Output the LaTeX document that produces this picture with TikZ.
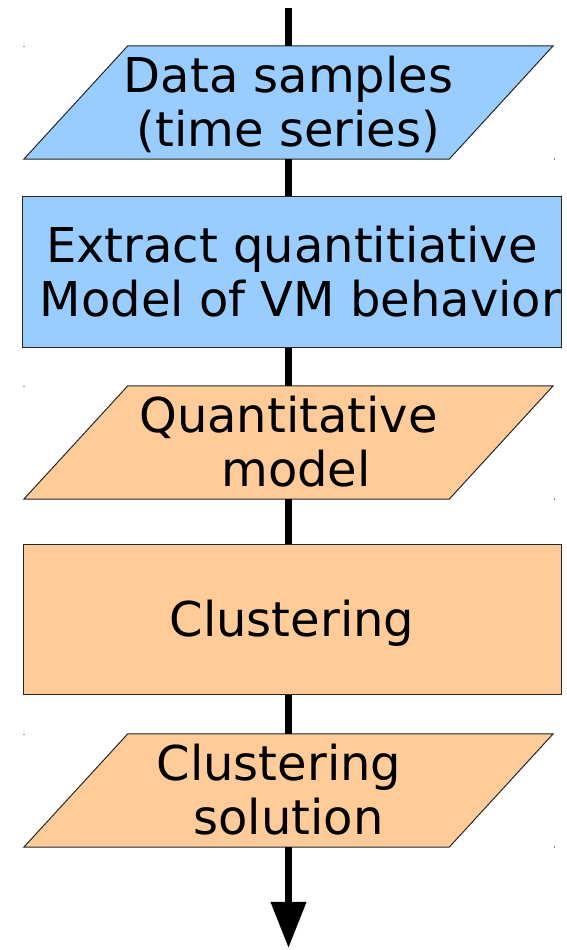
\documentclass[tikz,border=0pt]{standalone}
\usepackage{fontspec}
\setmainfont{DejaVu Sans}
\usetikzlibrary{arrows.meta,backgrounds}
\definecolor{inblue}{HTML}{99CCFF}
\definecolor{inorange}{HTML}{FFCC99}
% line strut: 44pt above, 10pt below the baseline
\newcommand{\lnstrut}{\rule[-10pt]{0pt}{54pt}}
\tikzset{
  flowtext/.style={font=\fontsize{48}{54}\selectfont, align=center, inner sep=0pt},
  procbox/.style={flowtext, draw=black!85, line width=1pt, minimum width=538pt, minimum height=151pt},
  iobox/.style={flowtext, minimum width=529pt, minimum height=113pt},
  flowline/.style={line width=7pt, black},
  slantfill/.style={draw=black!85, line width=1pt, line join=miter},
  cornermark/.style={fill=black!45}
}
% parallelogram drawn behind an io node: #1 node name, #2 colour
\newcommand{\ioshape}[2]{%
  \path[slantfill, fill=#2] (#1.south west) -- ([xshift=-104pt]#1.south east)
    -- (#1.north east) -- ([xshift=104pt]#1.north west) -- cycle;
  \fill[cornermark] ([xshift=-0.5pt,yshift=-1pt]#1.north west) rectangle ++(1.2pt,1.2pt);
  \fill[cornermark] ([xshift=0.5pt,yshift=-0.5pt]#1.south east) rectangle ++(1.2pt,1.2pt);
}
\begin{document}
\begin{tikzpicture}[x=1pt,y=1pt]
  \useasboundingbox (0,0) rectangle (567,950);

  \node[iobox] (data) at (288.5,847.5) {\lnstrut Data samples\\\lnstrut(time series)};
  \node[procbox, fill=inblue] (extract) at (292,677.5)
    {\lnstrut Extract quantitiative\\\lnstrut\hspace*{17pt}Model of VM behavior};
  \node[iobox] (qmodel) at (288.5,507.5) {\lnstrut Quantitative\\\lnstrut\hspace*{15pt}model};
  \node[procbox, fill=inorange, minimum height=150pt] (clust) at (292,330) {\lnstrut Clustering};
  \node[iobox] (sol) at (288.5,159.5) {\lnstrut Clustering\hspace*{19pt}\\\lnstrut solution};

  \coordinate (top) at (288.5,942);
  \coordinate (bottom) at (288.5,2);

  \begin{scope}[on background layer]
    \ioshape{data}{inblue}
    \ioshape{qmodel}{inorange}
    \ioshape{sol}{inorange}
    \draw[flowline] (top) -- (data.north -| top);
    \draw[flowline] (data.south -| top) -- (extract.north -| top);
    \draw[flowline] (extract.south -| top) -- (qmodel.north -| top);
    \draw[flowline] (qmodel.south -| top) -- (clust.north -| top);
    \draw[flowline] (clust.south -| top) -- (sol.north -| top);
    \draw[flowline, -{Triangle[length=46pt,width=34pt]}] (sol.south -| top) -- (bottom);
  \end{scope}
\end{tikzpicture}
\end{document}
